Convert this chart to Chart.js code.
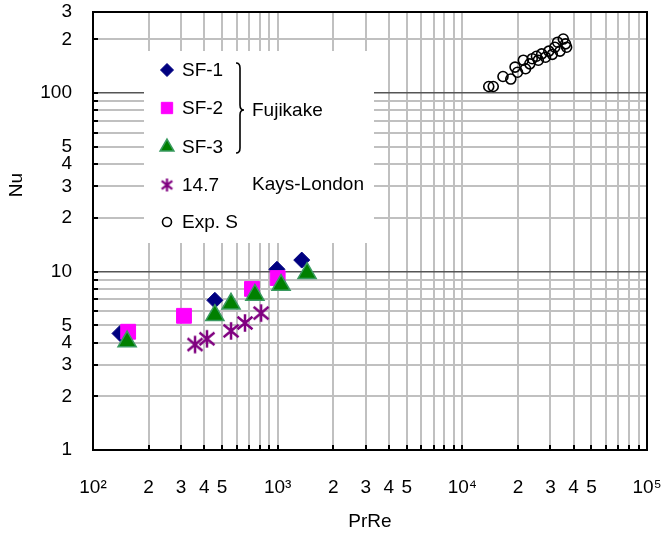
<!DOCTYPE html>
<html>
<head>
<meta charset="utf-8">
<script src="https://cdn.jsdelivr.net/npm/chart.js@4.4.0/dist/chart.umd.min.js"></script>
<style>
  body { margin: 0; background: #fff; }
</style>
</head>
<body>
<canvas id="nuChart" width="661" height="540"></canvas>
<script>
// values (PrRe, Nu)
const sf1X = [140, 457, 991, 1350];
const sf1Y = [4.5, 6.9, 10.3, 11.6];
const sf2X = [155, 311, 726, 1000];
const sf2Y = [4.6, 5.65, 8.0, 9.2];
const sf3X = [153, 457, 559, 753, 1043, 1443];
const sf3Y = [4.05, 5.7, 6.6, 7.4, 8.4, 9.8];
const klX = [357, 414, 559, 665, 813];
const klY = [3.9, 4.2, 4.65, 5.15, 5.85];
const expX = [13900, 14700, 16600, 18300, 19300, 19900, 21400, 22000, 23200, 23900, 25200,
              25800, 26900, 28200, 29400, 30700, 31700, 32800, 33800, 35200, 36200, 36700];
const expY = [109, 109, 124, 120, 140, 131, 153, 137, 146, 156, 161,
              153, 166, 159, 172, 165, 181, 193, 172, 201, 189, 181];

const xTickValues = [100, 200, 300, 400, 500, 600, 700, 800, 900,
                     1000, 2000, 3000, 4000, 5000, 6000, 7000, 8000, 9000,
                     10000, 20000, 30000, 40000, 50000, 60000, 70000, 80000, 90000, 100000];
const xTickLabels = ['10\u00b2', '2', '3', '4', '5', '', '', '', '',
                     '10\u00b3', '2', '3', '4', '5', '', '', '', '',
                     '10\u2074', '2', '3', '4', '5', '', '', '', '', '10\u2075'];
const yTickValues = [1, 2, 3, 4, 5, 6, 7, 8, 9, 10, 20, 30, 40, 50, 60, 70, 80, 90, 100, 200, 285];
const yTickLabels = ['1', '2', '3', '4', '5', '', '', '', '', '10', '2', '3', '4', '5', '', '', '', '', '100', '2', '3'];

const FONT = 'Liberation Sans, Arial, sans-serif';
const FS = 19;

function toPoints(xs, ys) {
  return xs.map((v, i) => ({ x: v, y: ys[i] }));
}

// six-armed asterisk marker
function makeStar(size, lw) {
  const c = document.createElement('canvas');
  c.width = size; c.height = size;
  const g = c.getContext('2d');
  g.strokeStyle = '#800080';
  g.lineWidth = lw;
  const m = lw;
  g.beginPath();
  g.moveTo(size / 2, m / 2); g.lineTo(size / 2, size - m / 2);
  g.moveTo(m, m * 1.5); g.lineTo(size - m, size - m * 1.5);
  g.moveTo(size - m, m * 1.5); g.lineTo(m, size - m * 1.5);
  g.stroke();
  return c;
}
const starBig = makeStar(20, 2.5);
const starSmall = makeStar(15, 2.2);

const datasets = [
  { label: 'SF-1', data: toPoints(sf1X, sf1Y), pointStyle: 'rectRot', pointRadius: 8,
    backgroundColor: '#000080', borderColor: '#000080', borderWidth: 1, order: 3,
    legendRadius: 6.5 },
  { label: 'SF-2', data: toPoints(sf2X, sf2Y), pointStyle: 'rect', pointRadius: 10.5,
    backgroundColor: '#ff00ff', borderColor: '#ff00ff', borderWidth: 1, order: 2,
    legendRadius: 8 },
  { label: 'SF-3', data: toPoints(sf3X, sf3Y), pointStyle: 'triangle', pointRadius: 10.5,
    backgroundColor: '#008000', borderColor: '#3a9a60', borderWidth: 1.5, order: 1,
    legendRadius: 8 },
  { label: '14.7', data: toPoints(klX, klY), pointStyle: starBig, pointRadius: 10,
    backgroundColor: '#800080', borderColor: '#800080', borderWidth: 1, order: 0,
    legendStyle: starSmall },
  { label: 'Exp. S', data: toPoints(expX, expY), pointStyle: 'circle', pointRadius: 5,
    backgroundColor: 'rgba(0,0,0,0)', borderColor: '#000', borderWidth: 1.6, order: 4,
    legendRadius: 4.5 }
];
datasets.forEach(d => { d.showLine = false; d.pointHoverRadius = d.pointRadius; });

const framePlugin = {
  id: 'frame',
  beforeDatasetsDraw(chart) {
    const { ctx, chartArea: a, scales: { x, y } } = chart;
    ctx.save();
    // white legend box over the grid
    ctx.fillStyle = '#fff';
    ctx.fillRect(a.left + 51, a.top + 39, 230, 192);
    // short inward ticks
    ctx.strokeStyle = '#000';
    ctx.lineWidth = 2;
    ctx.beginPath();
    x.ticks.forEach(t => {
      const px = Math.round(x.getPixelForValue(t.value));
      ctx.moveTo(px, a.bottom); ctx.lineTo(px, a.bottom - 5);
    });
    y.ticks.forEach(t => {
      const py = Math.round(y.getPixelForValue(t.value));
      ctx.moveTo(a.left, py); ctx.lineTo(a.left + 5, py);
    });
    ctx.stroke();
    ctx.lineWidth = 2;
    ctx.strokeRect(a.left, a.top, a.width, a.height);
    ctx.restore();
  },
  afterDraw(chart) {
    const { ctx, chartArea: a } = chart;
    ctx.save();
    ctx.font = FS + 'px ' + FONT;
    ctx.fillStyle = '#000';
    ctx.textBaseline = 'middle';

    // legend
    const lx = a.left + 74, tx = a.left + 89;
    const rows = [70, 108, 147, 185, 222];
    chart.data.datasets.forEach((d, i) => {
      const yy = rows[i];
      ctx.fillStyle = d.backgroundColor;
      ctx.strokeStyle = d.borderColor;
      ctx.lineWidth = d.borderWidth;
      Chart.helpers.drawPoint(ctx, {
        pointStyle: d.legendStyle || d.pointStyle,
        radius: d.legendRadius || 6,
        rotation: 0,
        borderWidth: d.borderWidth
      }, lx, yy);
      ctx.fillStyle = '#000';
      ctx.textAlign = 'left';
      ctx.fillText(d.label, tx, yy + 1);
    });

    // brace grouping the three SF series
    const bx = a.left + 147, top = 63, mid = 110, bot = 153;
    ctx.strokeStyle = '#000';
    ctx.lineWidth = 1.6;
    ctx.beginPath();
    ctx.moveTo(bx - 4, top);
    ctx.quadraticCurveTo(bx, top, bx, top + 5);
    ctx.lineTo(bx, mid - 5);
    ctx.quadraticCurveTo(bx, mid, bx + 4, mid);
    ctx.quadraticCurveTo(bx, mid, bx, mid + 5);
    ctx.lineTo(bx, bot - 5);
    ctx.quadraticCurveTo(bx, bot, bx - 4, bot);
    ctx.stroke();
    ctx.fillText('Fujikake', a.left + 159, mid + 1);
    ctx.fillText('Kays-London', a.left + 159, 185);

    // y axis title
    ctx.translate(17, 185);
    ctx.rotate(-Math.PI / 2);
    ctx.textAlign = 'center';
    ctx.fillText('Nu', 0, 0);
    ctx.restore();
  }
};

new Chart(document.getElementById('nuChart'), {
  type: 'scatter',
  data: { datasets: datasets },
  options: {
    responsive: false,
    animation: false,
    devicePixelRatio: 1,
    layout: { padding: { top: 10, right: 14, left: 0, bottom: 0 } },
    plugins: { legend: { display: false }, tooltip: { enabled: false } },
    scales: {
      x: {
        type: 'logarithmic',
        min: 100, max: 100000,
        afterBuildTicks: s => { s.ticks = xTickValues.map(v => ({ value: v })); },
        afterFit: s => { s.height = 90; s.paddingLeft = 0; s.paddingRight = 0; },
        ticks: {
          autoSkip: false, maxRotation: 0, padding: 26,
          color: '#000', font: { family: FONT, size: FS },
          callback: (v, i) => xTickLabels[i]
        },
        grid: { drawTicks: false, color: '#c0c0c0', lineWidth: 2 },
        border: { display: false },
        title: { display: true, text: 'PrRe', color: '#000',
                 font: { family: FONT, size: FS }, padding: { top: 0, bottom: 7 } }
      },
      y: {
        type: 'logarithmic',
        min: 1, max: 285,
        afterBuildTicks: s => { s.ticks = yTickValues.map(v => ({ value: v })); },
        afterFit: s => { s.width = 93; s.paddingTop = 0; s.paddingBottom = 0; },
        ticks: {
          autoSkip: false, padding: 21,
          color: '#000', font: { family: FONT, size: FS },
          callback: (v, i) => yTickLabels[i]
        },
        grid: {
          drawTicks: false,
          color: c => (c.tick && (c.tick.value === 10 || c.tick.value === 100)) ? '#555' :
                      (c.tick && c.tick.value === 285 ? 'rgba(0,0,0,0)' : '#c0c0c0'),
          lineWidth: c => (c.tick && (c.tick.value === 10 || c.tick.value === 100)) ? 1.5 : 2
        },
        border: { display: false }
      }
    }
  },
  plugins: [framePlugin]
});
</script>
</body>
</html>
